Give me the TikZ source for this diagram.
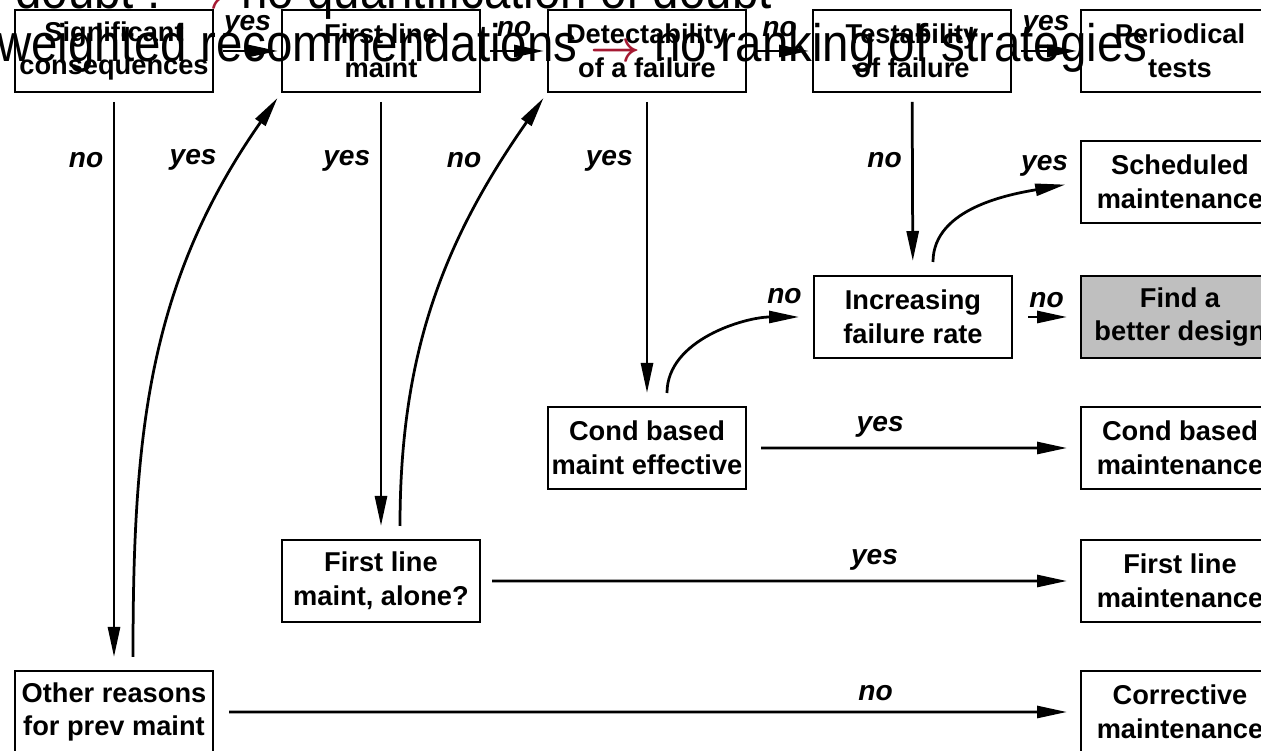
\documentclass[tikz,border=0pt]{standalone}
\usepackage{fontspec}
\setmainfont{Liberation Sans}
\newfontfamily\slidefont[FakeStretch=0.9]{Liberation Sans}
\usetikzlibrary{positioning, arrows.meta}
\definecolor{slidered}{RGB}{165,25,50}

\begin{document}
\begin{tikzpicture}[
    box/.style={draw, line width=0.04cm, minimum width=3.96cm, minimum height=1.64cm,
      inner sep=0pt, align=center, font=\bfseries\fontsize{15.5}{19.3}\selectfont},
    lbl/.style={font=\bfseries\itshape\fontsize{16}{19}\selectfont},
    flow/.style={line width=0.055cm, -{Triangle[length=0.6cm, width=0.24cm]}},
    over/.style={font=\slidefont\fontsize{30}{36}\selectfont, anchor=base west, inner sep=0pt}]
  \useasboundingbox (0,0) rectangle (25.22,-15.02);
  \clip (0,0) rectangle (25.22,-15.02);

  % top row
  \node[box] (sig) at (2.28,-1.02) {Significant\\consequences};
  \node[box, right=1.34cm of sig] (flm) {First line\\maint};
  \node[box, right=1.32cm of flm] (det) {Detectability\\of a failure};
  \node[box, right=1.30cm of det] (tst) {Testability\\of failure};
  \node[box, right=1.36cm of tst] (per) {Periodical\\tests};

  % right column
  \node[box, below=0.94cm of per] (sch) {Scheduled\\maintenance};
  \node[box, below=1.02cm of sch, fill=gray!50] (fbd) {Find a\\better design};
  \node[box, left=1.34cm of fbd] (inc) {Increasing\\failure rate};
  \node[box, below=0.94cm of fbd] (cbm) {Cond based\\maintenance};
  \node[box, below=0.98cm of cbm] (flmt) {First line\\maintenance};
  \node[box, below=0.94cm of flmt] (cor) {Corrective\\maintenance};

  % left and middle
  \node[box, below=6.26cm of det] (cbe) {Cond based\\maint effective};
  \node[box, below=8.92cm of flm] (fla) {First line\\maint, alone?};
  \node[box, below=11.54cm of sig] (oth) {Other reasons\\for prev maint};

  % top row arrows
  \draw[flow, shorten <=0.18cm, shorten >=0.06cm] (sig) -- node[lbl, above=4pt] (y1) {yes} (flm);
  \draw[flow, shorten <=0.18cm, shorten >=0.06cm] (flm) -- node[lbl, above=4pt] (n1) {no} (det);
  \draw[flow, shorten <=0.18cm, shorten >=0.06cm] (det) -- node[lbl, above=4pt] (n2) {no} (tst);
  \draw[flow, shorten <=0.18cm, shorten >=0.06cm] (tst) -- node[lbl, above=4pt] (y2) {yes} (per);

  % down and back up
  \draw[flow, shorten <=0.18cm, shorten >=0.26cm] (sig) -- node[lbl, pos=0.117, left=2pt] (n3) {no} (oth);
  \draw[flow, shorten <=0.26cm, shorten >=0.12cm] ([xshift=0.38cm]oth.north) to[out=90, in=235]
    node[lbl, pos=0.88, left=8pt] (y3) {yes} (flm.south west);
  \draw[flow, shorten <=0.18cm, shorten >=0.26cm] (flm) -- node[lbl, pos=0.152, left=2pt] (y4) {yes} (fla);
  \draw[flow, shorten <=0.26cm, shorten >=0.12cm] ([xshift=0.38cm]fla.north) to[out=90, in=235]
    node[lbl, pos=0.845, left=8pt] (n4) {no} (det.south west);
  \draw[flow, shorten <=0.18cm, shorten >=0.26cm] (det) -- node[lbl, pos=0.216, left=4pt] (y5) {yes} (cbe);
  \draw[flow, shorten <=0.26cm, shorten >=0.28cm] ([xshift=0.4cm]cbe.north) to[out=90, in=180]
    node[lbl, pos=0.86, above=4pt] (n5) {no} (inc.west);
  \draw[flow, shorten <=0.18cm, shorten >=0.28cm] (tst) -- node[lbl, pos=0.37, left=2pt] (n6) {no} (inc);
  \draw[flow, shorten <=0.26cm, shorten >=0.3cm] ([xshift=0.4cm]inc.north) to[out=90, in=190]
    node[lbl, pos=0.9, above=1pt, xshift=-0.3cm] (y6) {yes} (sch.west);

  % to the right column
  \draw[flow, shorten <=0.3cm, shorten >=0.26cm] (inc) -- node[lbl, above=1pt] (n7) {no} (fbd);
  \draw[flow, shorten <=0.28cm, shorten >=0.26cm] (cbe) -- node[lbl, pos=0.4, above=2pt] (y7) {yes} (cbm);
  \draw[flow, shorten <=0.22cm, shorten >=0.26cm] (fla) -- node[lbl, pos=0.657, above=2pt] (y8) {yes} (flmt);
  \draw[flow, shorten <=0.3cm, shorten >=0.26cm] (oth) -- node[lbl, pos=0.764, above=2pt] (n8) {no} (cor);

  % slide text on top
  \node[over] (doubt) at (0.3,-0.18) {doubt : {\color{slidered}\boldmath$\rightarrow$} no quantification of doubt};
  \node[over] (weighted) at (-0.06,-1.24) {weighted recommendations {\color{slidered}\boldmath$\rightarrow$} no ranking of strategies};
\end{tikzpicture}
\end{document}
